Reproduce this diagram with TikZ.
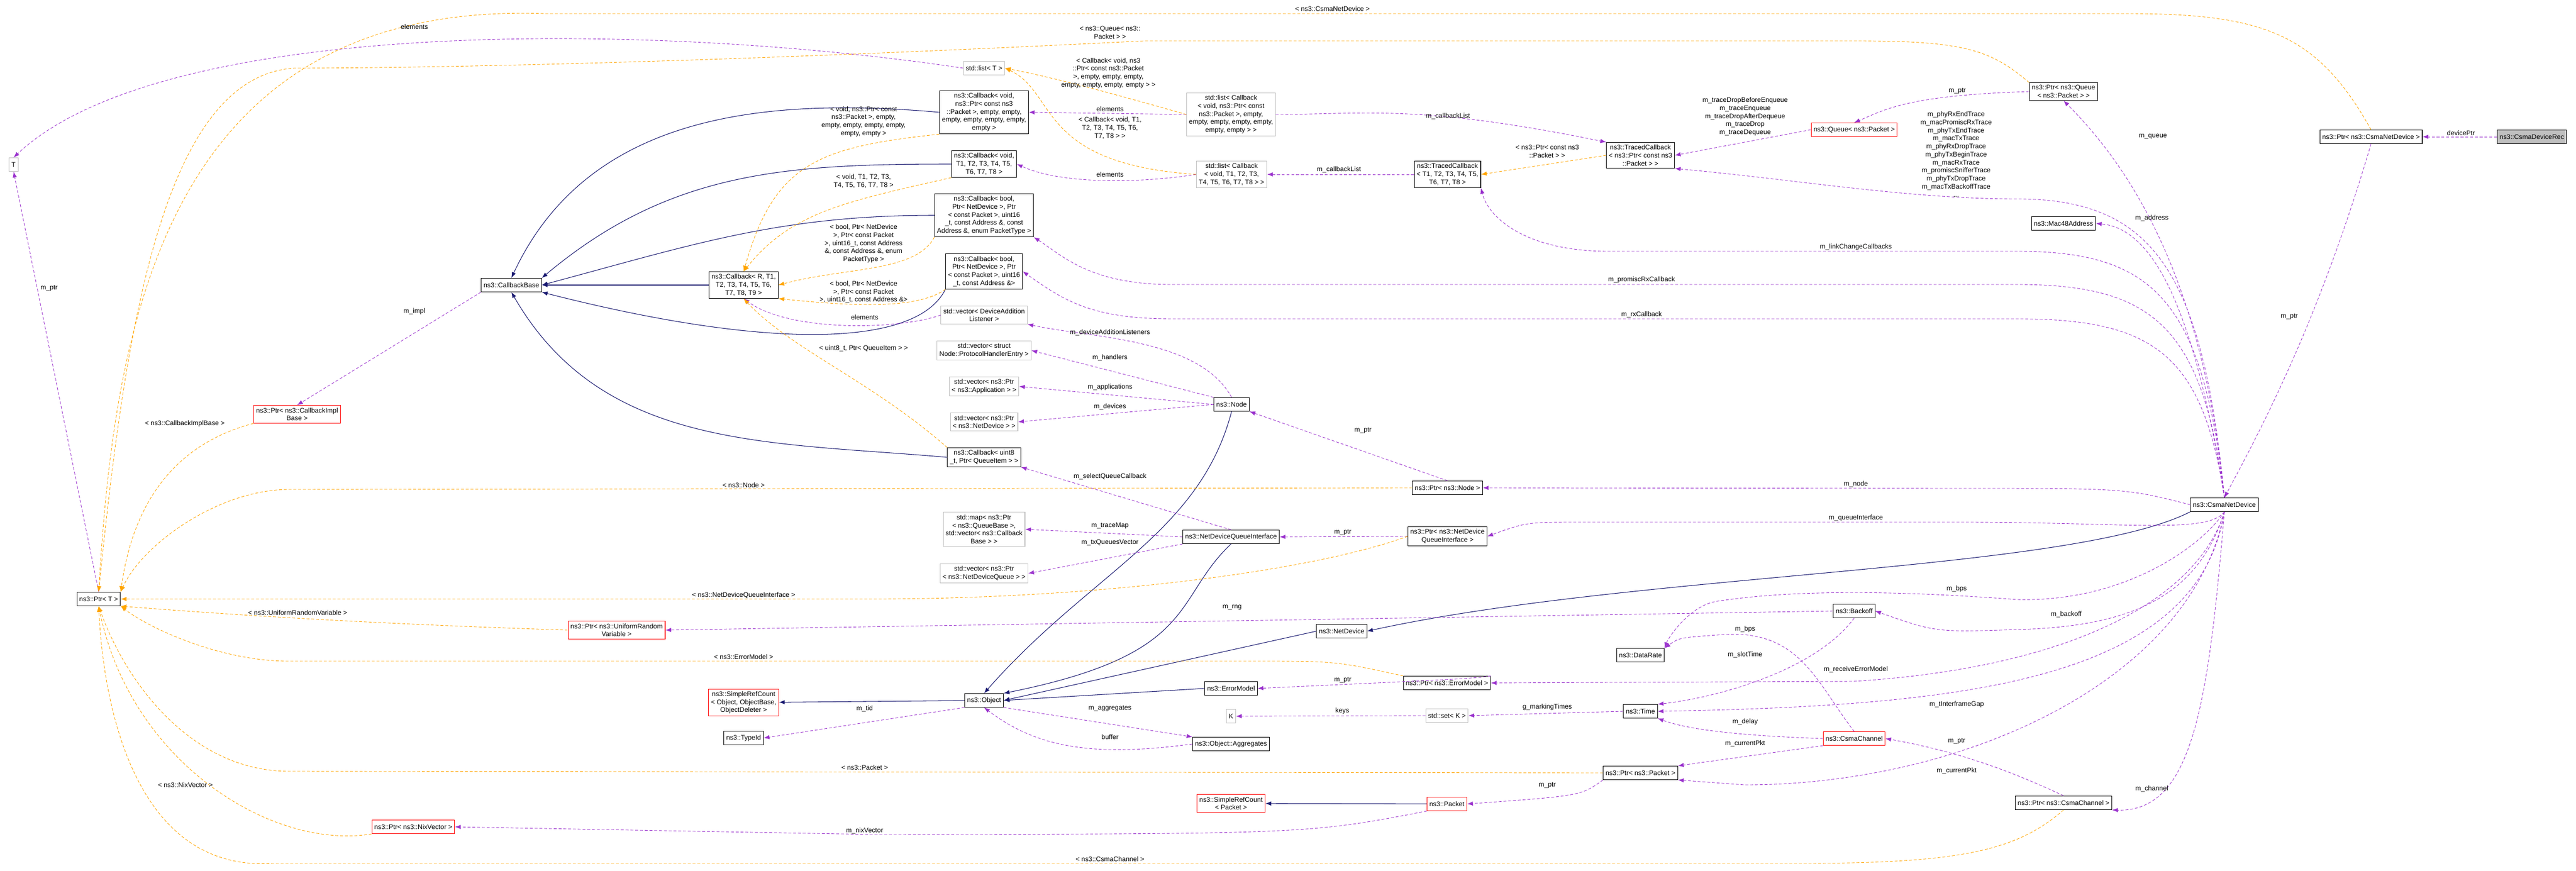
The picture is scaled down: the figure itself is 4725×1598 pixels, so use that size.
\documentclass[tikz,border=0pt]{standalone}
\usepackage{fontspec}
\setmainfont{Liberation Sans}
\usetikzlibrary{arrows.meta}
\definecolor{navy}{HTML}{191970}
\definecolor{orchid}{HTML}{9A32CD}
\definecolor{tmplorange}{HTML}{FFA500}
\tikzset{
  every node/.style={font=\fontsize{7}{8.4}\selectfont},
  cls/.style={draw=black,line width=0.6pt,align=center,inner sep=2.5pt,minimum height=0.5cm,fill=white},
  clsred/.style={cls,draw=red},
  clsgray/.style={cls,draw=gray!50},
  lbl/.style={align=center,inner sep=0pt},
  mem/.style={->,draw=orchid,dashed,dash pattern=on 3pt off 2pt,line width=0.5pt},
  tmpl/.style={->,draw=tmplorange,dashed,dash pattern=on 3pt off 2pt,line width=0.5pt},
  inh/.style={->,draw=navy,line width=0.6pt}
}
\begin{document}
\begin{tikzpicture}[>={Latex[length=6pt,width=4.5pt]},x=0.02cm,y=-0.02cm]
\useasboundingbox (0,0) rectangle (4725,1598);
% classes
\node[cls,fill=gray!50] (rec) at (4644,251) {ns3::CsmaDeviceRec};
\node[cls] (ptrcsma) at (4349,251) {ns3::Ptr< ns3::CsmaNetDevice >};
\node[cls] (csmand) at (4080,926) {ns3::CsmaNetDevice};
\node[cls] (ptrqueue) at (3785,168) {ns3::Ptr< ns3::Queue\\< ns3::Packet > >};
\node[clsred] (queue) at (3401,238) {ns3::Queue< ns3::Packet >};
\node[cls] (tcpkt) at (3009,285) {ns3::TracedCallback\\< ns3::Ptr< const ns3\\::Packet > >};
\node[cls] (tcT) at (2655,320) {ns3::TracedCallback\\< T1, T2, T3, T4, T5,\\T6, T7, T8 >};
\node[cls] (mac48) at (3785,410) {ns3::Mac48Address};
\node[clsgray] (listcbpkt) at (2258,210) {std::list< Callback\\< void, ns3::Ptr< const\\ns3::Packet >, empty,\\empty, empty, empty, empty,\\empty, empty > >};
\node[clsgray] (listcbT) at (2259,320) {std::list< Callback\\< void, T1, T2, T3,\\T4, T5, T6, T7, T8 > >};
\node[clsgray] (listT) at (1805,125) {std::list< T >};
\node[cls] (cbvoidpkt) at (1805,206) {ns3::Callback< void,\\ns3::Ptr< const ns3\\::Packet >, empty, empty,\\empty, empty, empty, empty,\\empty >};
\node[cls] (cbvoidT) at (1805,301) {ns3::Callback< void,\\T1, T2, T3, T4, T5,\\T6, T7, T8 >};
\node[cls] (cbboolpt) at (1805,395) {ns3::Callback< bool,\\Ptr< NetDevice >, Ptr\\< const Packet >, uint16\\\_t, const Address \&, const\\Address \&, enum PacketType >};
\node[cls] (cbbooladdr) at (1805,498) {ns3::Callback< bool,\\Ptr< NetDevice >, Ptr\\< const Packet >, uint16\\\_t, const Address \&>};
\node[clsgray] (vecdal) at (1805,578) {std::vector< DeviceAddition\\Listener >};
\node[clsgray] (vecphe) at (1805,643) {std::vector< struct\\Node::ProtocolHandlerEntry >};
\node[clsgray] (vecapp) at (1805,709) {std::vector< ns3::Ptr\\< ns3::Application > >};
\node[clsgray] (vecdev) at (1805,774) {std::vector< ns3::Ptr\\< ns3::NetDevice > >};
\node[cls] (cbqi) at (1805,839) {ns3::Callback< uint8\\\_t, Ptr< QueueItem > >};
\node[cls] (cbR) at (1364,523) {ns3::Callback< R, T1,\\T2, T3, T4, T5, T6,\\T7, T8, T9 >};
\node[cls] (cbbase) at (938,523) {ns3::CallbackBase};
\node[clsgray] (T) at (25,302) {T};
\node[clsred] (ptrcbimpl) at (545,760) {ns3::Ptr< ns3::CallbackImpl\\Base >};
\node[cls] (ptrT) at (181,1099) {ns3::Ptr< T >};
\node[cls] (node) at (2259,742) {ns3::Node};
\node[cls] (ptrnode) at (2655,895) {ns3::Ptr< ns3::Node >};
\node[clsgray] (tracemap) at (1805,971) {std::map< ns3::Ptr\\< ns3::QueueBase >,\\std::vector< ns3::Callback\\Base > >};
\node[clsgray] (vecndq) at (1805,1052) {std::vector< ns3::Ptr\\< ns3::NetDeviceQueue > >};
\node[cls] (ndqi) at (2258,985) {ns3::NetDeviceQueueInterface};
\node[cls] (ptrndqi) at (2655,984) {ns3::Ptr< ns3::NetDevice\\QueueInterface >};
\node[clsred] (ptrurv) at (1131,1156) {ns3::Ptr< ns3::UniformRandom\\Variable >};
\node[cls] (netdev) at (2461,1158) {ns3::NetDevice};
\node[cls] (backoff) at (3401,1121) {ns3::Backoff};
\node[cls] (datarate) at (3009,1202) {ns3::DataRate};
\node[cls] (ptrerr) at (2654,1253) {ns3::Ptr< ns3::ErrorModel >};
\node[cls] (errmodel) at (2258,1263) {ns3::ErrorModel};
\node[clsred] (src) at (1364,1289) {ns3::SimpleRefCount\\< Object, ObjectBase,\\ObjectDeleter >};
\node[cls] (object) at (1805,1285) {ns3::Object};
\node[cls] (typeid) at (1364,1354) {ns3::TypeId};
\node[clsgray] (K) at (2258,1314) {K};
\node[clsgray] (setK) at (2654,1313) {std::set< K >};
\node[cls] (time) at (3009,1305) {ns3::Time};
\node[cls] (aggr) at (2258,1365) {ns3::Object::Aggregates};
\node[clsred] (channel) at (3401,1355) {ns3::CsmaChannel};
\node[cls] (ptrpkt) at (3009,1418) {ns3::Ptr< ns3::Packet >};
\node[clsred] (srcpkt) at (2258,1474) {ns3::SimpleRefCount\\< Packet >};
\node[clsred] (packet) at (2654,1475) {ns3::Packet};
\node[clsred] (ptrnix) at (758,1517) {ns3::Ptr< ns3::NixVector >};
\node[cls] (ptrchan) at (3785,1473) {ns3::Ptr< ns3::CsmaChannel >};
% inheritance
\draw[inh] (cbvoidpkt.west) to[out=175,in=65] (cbbase.north);
\draw[inh] (cbvoidT.west) to[out=180,in=40] (cbbase.north east);
\draw[inh] (cbboolpt.west) to[out=180,in=15] (cbbase.east);
\draw[inh] (cbR) -- (cbbase);
\draw[inh] (cbbooladdr.south west) .. controls (1680,640) and (1400,640) .. (cbbase.south east);
\draw[inh] (cbqi.west) to[out=175,in=-60] (cbbase.south);
\draw[inh] (node.south) .. controls (2200,980) and (2000,1050) .. (object.north);
\draw[inh] (ndqi.south) .. controls (2150,1100) and (2200,1200) .. (object.north east);
\draw[inh] (netdev.west) -- (object.east);
\draw[inh] (errmodel.west) -- (object.east);
\draw[inh] (csmand.south west) .. controls (3800,1050) and (3000,1050) .. (netdev.east);
\draw[inh] (object) -- (src);
\draw[inh] (packet) -- (srcpkt);
% members
\draw[mem] (rec) -- (ptrcsma);
\draw[mem] (ptrcsma.south) .. controls (4250,600) and (4140,800) .. (csmand.north);
\draw[mem] (csmand.north) .. controls (4040,500) and (3900,300) .. (ptrqueue.south);
\draw[mem] (csmand.north) .. controls (4030,600) and (3960,420) .. (mac48.east);
\draw[mem] (csmand.north) .. controls (4040,500) and (3950,365) .. (3700,365) .. controls (3500,365) and (3300,330) .. (tcpkt.south east);
\draw[mem] (csmand.north) .. controls (4040,550) and (3950,461) .. (3700,461) -- (2950,461) .. controls (2800,461) and (2730,400) .. (tcT.south east);
\draw[mem] (csmand.north) .. controls (4040,600) and (3950,522) .. (3700,522) -- (2150,522) .. controls (2000,522) and (1950,470) .. (cbboolpt.south east);
\draw[mem] (csmand.north) .. controls (4040,650) and (3950,585) .. (3700,585) -- (2150,585) .. controls (2000,585) and (1950,550) .. (cbbooladdr.east);
\draw[mem] (csmand.west) .. controls (3900,896) .. (3600,896) -- (ptrnode.east);
\draw[mem] (csmand.south) .. controls (4050,980) and (3900,958) .. (3600,958) -- (2900,958) .. controls (2800,958) .. (ptrndqi.east);
\draw[mem] (csmand.south) .. controls (4030,1100) and (3900,1150) .. (3700,1155) .. controls (3550,1160) .. (backoff.east);
\draw[mem] (csmand.south) .. controls (4040,1000) and (3900,1105) .. (3700,1100) .. controls (3500,1085) and (3300,1080) .. (3150,1103) .. controls (3100,1110) and (3060,1170) .. (datarate.north east);
\draw[mem] (csmand.south) .. controls (4030,1100) and (3800,1225) .. (3400,1250) -- (ptrerr.east);
\draw[mem] (csmand.south) .. controls (4030,1250) and (3600,1295) .. (time.east);
\draw[mem] (csmand.south) .. controls (4020,1250) and (3600,1440) .. (3200,1440) -- (ptrpkt.south east);
\draw[mem] (csmand.south) .. controls (4050,1300) and (4020,1490) .. (ptrchan.south east);
\draw[mem] (ptrqueue.west) .. controls (3500,175) and (3460,200) .. (queue.north);
\draw[mem] (queue.west) -- (tcpkt.east);
\draw[mem] (listcbpkt.east) .. controls (2500,210) and (2600,190) .. (tcpkt.north west);
\draw[mem] (tcT.west) -- (listcbT.east);
\draw[mem] (listcbpkt.west) -- (cbvoidpkt.east);
\draw[mem] (listcbT.west) .. controls (2100,335) and (1950,340) .. (cbvoidT.east);
\draw[mem] (listT.west) .. controls (1200,40) and (300,30) .. (T.north);
\draw[mem] (vecdal.west) .. controls (1650,605) and (1450,610) .. (cbR.south);
\draw[mem] (node.north) .. controls (2200,620) and (2000,620) .. (vecdal.south east);
\draw[mem] (node.north west) -- (vecphe.east);
\draw[mem] (node.west) -- (vecapp.east);
\draw[mem] (node.west) -- (vecdev.east);
\draw[mem] (ptrnode.north) -- (node.south east);
\draw[mem] (ndqi.north) -- (cbqi.south east);
\draw[mem] (ndqi.west) -- (tracemap.east);
\draw[mem] (ndqi.south west) -- (vecndq.east);
\draw[mem] (ptrndqi.west) -- (ndqi.east);
\draw[mem] (ptrerr.north east) .. controls (2700,1245) .. (errmodel.east);
\draw[mem] (setK.west) -- (K.east);
\draw[mem] (time.west) -- (setK.east);
\draw[mem] (backoff.south) .. controls (3330,1230) and (3150,1280) .. (time.north east);
\draw[mem] (backoff.west) -- (ptrurv.east);
\draw[mem] (channel.north) .. controls (3330,1250) and (3300,1150) .. (3150,1165) .. controls (3080,1170) .. (datarate.north east);
\draw[mem] (channel.west) .. controls (3200,1350) and (3100,1340) .. (time.south east);
\draw[mem] (channel.south west) -- (ptrpkt.north east);
\draw[mem] (ptrchan.north) .. controls (3700,1420) and (3600,1380) .. (channel.east);
\draw[mem] (ptrpkt.south west) .. controls (2900,1460) .. (packet.east);
\draw[mem] (packet.south west) .. controls (2400,1530) .. (1600,1531) -- (ptrnix.east);
\draw[mem] (object.south west) -- (typeid.east);
\draw[mem] (object.south east) -- (aggr.north west);
\draw[mem] (aggr.west) .. controls (2000,1390) and (1900,1370) .. (object.south);
\draw[mem] (cbbase.south west) -- (ptrcbimpl.north);
\draw[mem] (ptrT.north) -- (T.south);
% template instances
\draw[tmpl] (listcbpkt.west) .. controls (2000,160) and (1920,140) .. (listT.east);
\draw[tmpl] (listcbT.west) .. controls (1900,300) and (1940,170) .. (listT.east);
\draw[tmpl] (cbvoidpkt.south west) .. controls (1500,270) and (1420,300) .. (cbR.north);
\draw[tmpl] (cbvoidT.south west) .. controls (1550,370) and (1450,390) .. (cbR.north);
\draw[tmpl] (cbboolpt.south west) .. controls (1680,500) and (1550,490) .. (cbR.east);
\draw[tmpl] (cbbooladdr.south west) .. controls (1680,570) and (1550,560) .. (cbR.south east);
\draw[tmpl] (cbqi.north west) .. controls (1600,700) and (1450,640) .. (cbR.south);
\draw[tmpl] (tcpkt.west) -- (tcT.east);
\draw[tmpl] (ptrcsma.north) .. controls (4250,60) and (4150,25) .. (3900,25) -- (1000,25) .. controls (300,0) and (210,600) .. (ptrT.north);
\draw[tmpl] (ptrqueue.north west) .. controls (3650,90) and (3600,75) .. (3400,75) -- (2100,75) .. controls (1200,120) and (700,125) .. (540,125) .. controls (300,140) and (230,600) .. (ptrT.north);
\draw[tmpl] (ptrcbimpl.south west) .. controls (300,820) and (240,950) .. (ptrT.north east);
\draw[tmpl] (ptrnode.west) -- (530,898) .. controls (400,898) and (260,1000) .. (ptrT.north east);
\draw[tmpl] (ptrndqi.west) .. controls (2400,1050) and (2000,1099) .. (1600,1099) -- (ptrT.east);
\draw[tmpl] (ptrurv.west) .. controls (700,1145) and (450,1130) .. (ptrT.south east);
\draw[tmpl] (ptrerr.north west) .. controls (2450,1213) .. (2300,1213) -- (530,1213) .. controls (400,1213) and (270,1150) .. (ptrT.south east);
\draw[tmpl] (ptrpkt.west) -- (530,1415) .. controls (350,1415) and (230,1250) .. (ptrT.south);
\draw[tmpl] (ptrnix.south west) .. controls (500,1560) and (240,1400) .. (ptrT.south);
\draw[tmpl] (ptrchan.south) .. controls (3700,1560) and (3600,1584) .. (3300,1584) -- (500,1584) .. controls (250,1600) and (190,1300) .. (ptrT.south);
% edge labels
\node[lbl] (lDevPtr) at (4514,244) {devicePtr};
\node[lbl] (lPtrCsma) at (4199,581) {m\_ptr};
\node[lbl] (lQueue) at (3949,250) {m\_queue};
\node[lbl] (lAddr) at (3947,400) {m\_address};
\node[lbl] (lQPtr) at (3590,167) {m\_ptr};
\node[lbl] (lTraces) at (3588,283) {m\_phyRxEndTrace\\m\_macPromiscRxTrace\\m\_phyTxEndTrace\\m\_macTxTrace\\m\_phyRxDropTrace\\m\_phyTxBeginTrace\\m\_macRxTrace\\m\_promiscSnifferTrace\\m\_phyTxDropTrace\\m\_macTxBackoffTrace\\...};
\node[lbl] (lQTraces) at (3201,214) {m\_traceDropBeforeEnqueue\\m\_traceEnqueue\\m\_traceDropAfterDequeue\\m\_traceDrop\\m\_traceDequeue};
\node[lbl] (lCbList1) at (2656,213) {m\_callbackList};
\node[lbl] (lCbList2) at (2456,311) {m\_callbackList};
\node[lbl] (lTcArg) at (2838,278) {< ns3::Ptr< const ns3\\::Packet > >};
\node[lbl] (lLink) at (3404,453) {m\_linkChangeCallbacks};
\node[lbl] (lPromisc) at (3011,513) {m\_promiscRxCallback};
\node[lbl] (lRx) at (3011,577) {m\_rxCallback};
\node[lbl] (lCsmaTmpl) at (2444,16) {< ns3::CsmaNetDevice >};
\node[lbl] (lQueueTmpl) at (2036,60) {< ns3::Queue< ns3::\\Packet > >};
\node[lbl] (lListPkt) at (2033,134) {< Callback< void, ns3\\::Ptr< const ns3::Packet\\>, empty, empty, empty,\\empty, empty, empty, empty > >};
\node[lbl] (lElem1) at (2036,200) {elements};
\node[lbl] (lListT) at (2036,235) {< Callback< void, T1,\\T2, T3, T4, T5, T6,\\T7, T8 > >};
\node[lbl] (lElem2) at (2036,320) {elements};
\node[lbl] (lElem3) at (760,49) {elements};
\node[lbl] (lElem4) at (1586,582) {elements};
\node[lbl] (lArgVP) at (1584,223) {< void, ns3::Ptr< const\\ns3::Packet >, empty,\\empty, empty, empty, empty,\\empty, empty >};
\node[lbl] (lArgVT) at (1584,332) {< void, T1, T2, T3,\\T4, T5, T6, T7, T8 >};
\node[lbl] (lArgPT) at (1584,447) {< bool, Ptr< NetDevice\\>, Ptr< const Packet\\>, uint16\_t, const Address\\\&, const Address \&, enum\\PacketType >};
\node[lbl] (lArgAd) at (1584,536) {< bool, Ptr< NetDevice\\>, Ptr< const Packet\\>, uint16\_t, const Address \&>};
\node[lbl] (lArgQi) at (1584,639) {< uint8\_t, Ptr< QueueItem > >};
\node[lbl] (lDal) at (2036,610) {m\_deviceAdditionListeners};
\node[lbl] (lHand) at (2036,656) {m\_handlers};
\node[lbl] (lApps) at (2036,710) {m\_applications};
\node[lbl] (lDevs) at (2036,746) {m\_devices};
\node[lbl] (lNodePtr) at (2500,790) {m\_ptr};
\node[lbl] (lImpl) at (760,571) {m\_impl};
\node[lbl] (lTPtr) at (90,529) {m\_ptr};
\node[lbl] (lImplTmpl) at (339,777) {< ns3::CallbackImplBase >};
\node[lbl] (lSelQ) at (2036,874) {m\_selectQueueCallback};
\node[lbl] (lNodeTmpl) at (1364,890) {< ns3::Node >};
\node[lbl] (lMNode) at (3404,888) {m\_node};
\node[lbl] (lQI) at (3404,950) {m\_queueInterface};
\node[lbl] (lTraceMap) at (2036,965) {m\_traceMap};
\node[lbl] (lTxQ) at (2036,995) {m\_txQueuesVector};
\node[lbl] (lNdqiPtr) at (2463,977) {m\_ptr};
\node[lbl] (lNdqiTmpl) at (1364,1092) {< ns3::NetDeviceQueueInterface >};
\node[lbl] (lUrvTmpl) at (546,1124) {< ns3::UniformRandomVariable >};
\node[lbl] (lRng) at (2260,1114) {m\_rng};
\node[lbl] (lBps1) at (3589,1080) {m\_bps};
\node[lbl] (lBackoff) at (3790,1127) {m\_backoff};
\node[lbl] (lBps2) at (3201,1154) {m\_bps};
\node[lbl] (lSlot) at (3201,1201) {m\_slotTime};
\node[lbl] (lErrTmpl) at (1364,1205) {< ns3::ErrorModel >};
\node[lbl] (lRecvErr) at (3404,1228) {m\_receiveErrorModel};
\node[lbl] (lErrPtr) at (2463,1248) {m\_ptr};
\node[lbl] (lIfg) at (3589,1292) {m\_tInterframeGap};
\node[lbl] (lMark) at (2838,1297) {g\_markingTimes};
\node[lbl] (lKeys) at (2462,1304) {keys};
\node[lbl] (lTid) at (1586,1300) {m\_tid};
\node[lbl] (lAggr) at (2036,1300) {m\_aggregates};
\node[lbl] (lBuf) at (2036,1352) {buffer};
\node[lbl] (lDelay) at (3201,1324) {m\_delay};
\node[lbl] (lCur1) at (3201,1364) {m\_currentPkt};
\node[lbl] (lChanPtr) at (3589,1360) {m\_ptr};
\node[lbl] (lCur2) at (3589,1414) {m\_currentPkt};
\node[lbl] (lPktTmpl) at (1586,1408) {< ns3::Packet >};
\node[lbl] (lPktPtr) at (2838,1441) {m\_ptr};
\node[lbl] (lNixTmpl) at (340,1440) {< ns3::NixVector >};
\node[lbl] (lNix) at (1586,1524) {m\_nixVector};
\node[lbl] (lChanTmpl) at (2036,1576) {< ns3::CsmaChannel >};
\node[lbl] (lChannel) at (3947,1447) {m\_channel};
\end{tikzpicture}
\end{document}
